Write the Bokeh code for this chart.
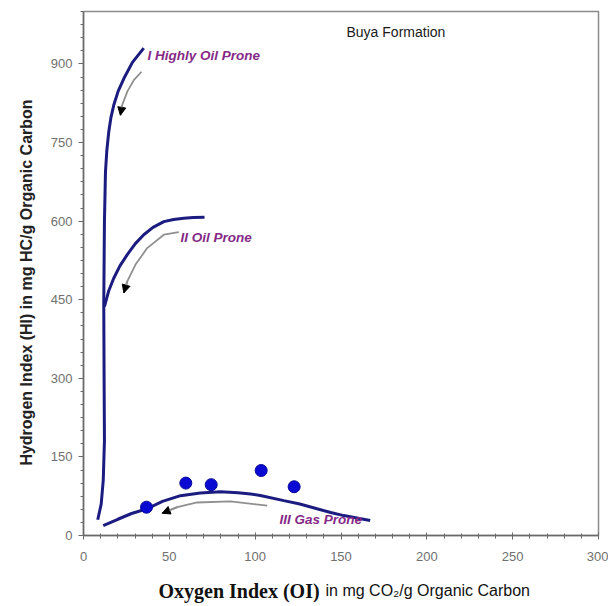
from bokeh.plotting import figure
from bokeh.models import FixedTicker, Label, Arrow, NormalHead, Range1d
from bokeh.embed import file_html
from bokeh.resources import INLINE

# ---- sample data (Buya Formation) ----
oi_samples = [36.7, 59.6, 74.4, 103.5, 122.7]
hi_samples = [54, 100, 97, 124, 93]

# ---- kerogen type reference curves ----
type1_oi = [8.3, 10.3, 11.5, 12.2, 12.0, 11.8, 12.2, 12.8, 13.6, 14.7, 16.0, 17.6, 20.2, 23.5, 28.5, 35.1]
type1_hi = [30, 60, 105, 181, 300, 441, 599, 694, 735, 770, 798, 821, 848, 872, 903, 930]

type2_oi = [12.2, 14.6, 17.6, 21.3, 25.5, 30.2, 35.1, 40.5, 46.8, 52.5, 58.4, 64.0, 70.5]
type2_hi = [437, 466, 491, 515, 536, 557, 574, 588, 599, 603, 605.6, 606.8, 607.5]

type3_oi = [11.5, 20, 28, 37, 46, 56.5, 68, 79.8, 90, 97.3, 103, 116.7, 126, 136, 144, 151.6, 160, 167]
type3_hi = [19, 31, 42, 51, 65, 76, 81, 83.7, 81.5, 79, 76.5, 66.6, 60, 51, 44, 38, 33, 28.5]

# maturation arrows
arrow1_oi = [33.8, 29.3, 25.5, 22.5, 21.5]
arrow1_hi = [885, 869, 847, 821, 802]
arrow2_oi = [55.5, 46.8, 37.1, 30.3, 25.5, 23.5]
arrow2_hi = [579, 574, 548.5, 517, 485, 463]
arrow3_oi = [107, 85.6, 66.2, 54.6, 45.8]
arrow3_hi = [57, 65, 63, 54, 42.5]

x_ticks = [0, 50, 100, 150, 200, 250, 300]
y_ticks = [0, 150, 300, 450, 600, 750, 900]

X_MAX, Y_MAX = 300, 1000
FRAME_L, FRAME_T, FRAME_W, FRAME_H = 83, 11, 515, 524


def dx(sx):
    return (sx - FRAME_L) * X_MAX / FRAME_W


def dy(sy):
    return (FRAME_T + FRAME_H - sy) * Y_MAX / FRAME_H


p = figure(width=608, height=603, x_range=Range1d(0, X_MAX), y_range=Range1d(0, Y_MAX),
           output_backend="svg", toolbar_location=None,
           min_border_left=83, min_border_right=10, min_border_top=11, min_border_bottom=68)
p.xgrid.visible = False
p.ygrid.visible = False
p.outline_line_color = "#8c8c8c"
p.outline_line_width = 1.5
p.background_fill_color = "white"
p.border_fill_color = "white"

for ax in (p.xaxis[0], p.yaxis[0]):
    ax.axis_line_color = "#6a6a6a"
    ax.axis_line_width = 1.5
    ax.major_tick_line_color = "#6a6a6a"
    ax.minor_tick_line_color = "#6a6a6a"
    ax.major_label_text_font = "Liberation Sans"
    ax.major_label_text_font_size = "13px"
    ax.major_label_text_color = "#707070"

p.xaxis.ticker = FixedTicker(ticks=x_ticks, minor_ticks=list(range(0, 301, 10)))
p.yaxis.ticker = FixedTicker(ticks=y_ticks, minor_ticks=list(range(0, 1001, 25)))
p.xaxis.major_tick_in = 3
p.xaxis.major_tick_out = 4
p.xaxis.minor_tick_in = 2
p.xaxis.minor_tick_out = 3
p.xaxis.major_label_standoff = 12
p.yaxis.major_tick_in = 0
p.yaxis.major_tick_out = 5
p.yaxis.minor_tick_in = 0
p.yaxis.minor_tick_out = 3
p.yaxis.major_label_standoff = 6

navy = "#1c1c80"
p.line(type1_oi, type1_hi, line_color=navy, line_width=3)
p.line(type2_oi, type2_hi, line_color=navy, line_width=3)
p.line(type3_oi, type3_hi, line_color=navy, line_width=3)

arrow_gray = "#8f8f8f"
for ax_, ay_ in ((arrow1_oi, arrow1_hi), (arrow2_oi, arrow2_hi), (arrow3_oi, arrow3_hi)):
    p.line(ax_, ay_, line_color=arrow_gray, line_width=1.8)
    p.add_layout(Arrow(end=NormalHead(size=8, fill_color="black", line_color="black"),
                       x_start=ax_[-2], y_start=ay_[-2], x_end=ax_[-1], y_end=ay_[-1],
                       line_color=arrow_gray, line_width=1.8))

p.scatter(oi_samples, hi_samples, size=12, marker="circle", fill_color="#0a0ad2",
          line_color="#06069a", line_width=1)

purple = "#852a86"
for txt, sx, sy in (("I  Highly Oil Prone", 147, 55), ("II  Oil Prone", 180, 237),
                    ("III  Gas Prone", 279, 519)):
    p.add_layout(Label(x=dx(sx), y=dy(sy), text=txt, text_font="Liberation Sans",
                       text_font_size="13.5px", text_font_style="bold italic",
                       text_color=purple, text_baseline="middle", text_align="left"))

p.add_layout(Label(x=dx(346), y=dy(31), text="Buya Formation", text_font="Liberation Sans",
                   text_font_size="14px", text_color="#1a1a1a",
                   text_baseline="middle", text_align="left"))

# y-axis title (in the left side panel so it is not clipped to the frame)
p.add_layout(Label(x=dx(26), y=dy(282), text="Hydrogen Index (HI) in mg HC/g Organic Carbon",
                   angle=1.5707963, text_font="Liberation Sans", text_font_size="16px",
                   text_font_style="bold", text_color="#222222",
                   text_baseline="middle", text_align="center"), "left")

# x-axis title (bold serif part + regular part)
p.add_layout(Label(x=dx(158), y=dy(590), text="Oxygen Index (OI)", text_font="Liberation Serif",
                   text_font_size="20px", text_font_style="bold", text_color="#111111",
                   text_baseline="middle", text_align="left"), "below")
p.add_layout(Label(x=dx(325), y=dy(590), text="in mg CO\u2082/g Organic Carbon",
                   text_font="Liberation Sans", text_font_size="16px", text_color="#111111",
                   text_baseline="middle", text_align="left"), "below")

open("out.html", "w").write(file_html(p, INLINE))
